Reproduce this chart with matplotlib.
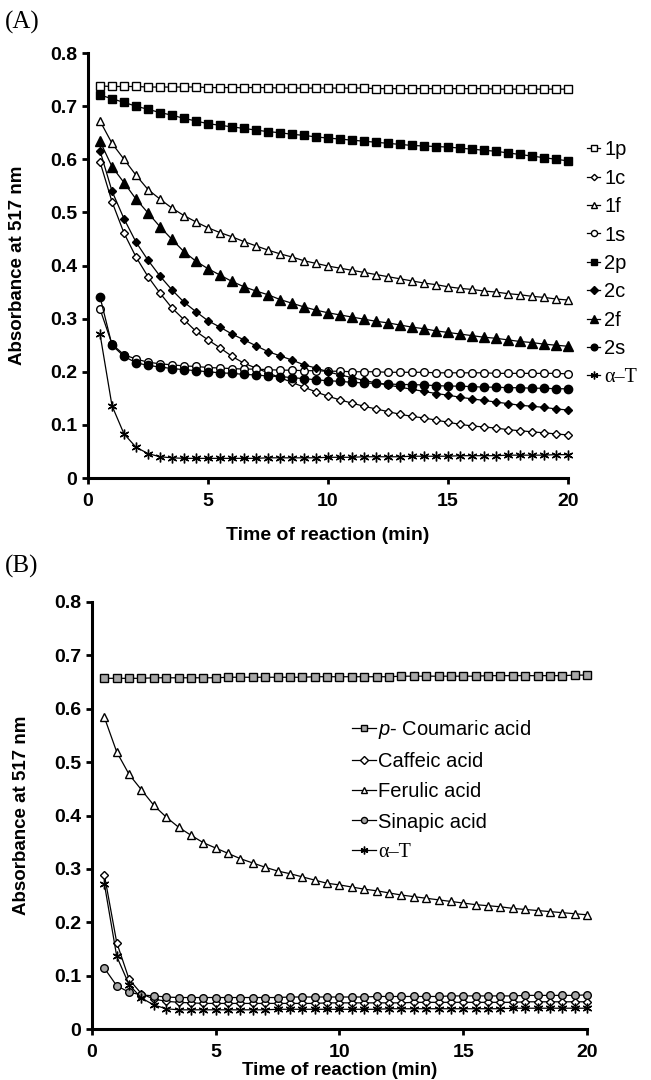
import matplotlib
matplotlib.use("Agg")
import matplotlib.pyplot as plt

plt.rcParams['font.family'] = ['Liberation Sans', 'DejaVu Sans']
plt.rcParams['mathtext.fontset'] = 'custom'
plt.rcParams['mathtext.it'] = 'Liberation Sans:italic'
plt.rcParams['mathtext.rm'] = 'Liberation Sans'

# ---------------------------------------------------------------------------
# data, time in min
# ---------------------------------------------------------------------------
time_min = [0.5, 1, 1.5, 2, 2.5, 3, 3.5, 4, 4.5, 5, 5.5, 6, 6.5, 7, 7.5, 8, 8.5, 9, 9.5, 10,
            10.5, 11, 11.5, 12, 12.5, 13, 13.5, 14, 14.5, 15, 15.5, 16, 16.5, 17, 17.5, 18,
            18.5, 19, 19.5, 20]

# panel A
a_1p = [0.738, 0.737, 0.737, 0.737, 0.736, 0.736, 0.736, 0.736, 0.736, 0.735, 0.735, 0.735,
        0.735, 0.735, 0.735, 0.734, 0.734, 0.734, 0.734, 0.734, 0.734, 0.734, 0.734, 0.733,
        0.733, 0.733, 0.733, 0.733, 0.733, 0.733, 0.733, 0.733, 0.733, 0.732, 0.732, 0.732,
        0.732, 0.732, 0.732, 0.732]
a_1c = [0.595, 0.520, 0.461, 0.416, 0.379, 0.348, 0.320, 0.298, 0.276, 0.260, 0.245, 0.229,
        0.216, 0.207, 0.198, 0.189, 0.180, 0.171, 0.162, 0.154, 0.147, 0.141, 0.135, 0.130,
        0.125, 0.120, 0.116, 0.113, 0.109, 0.105, 0.101, 0.098, 0.096, 0.094, 0.091, 0.089,
        0.087, 0.085, 0.083, 0.081]
a_1f = [0.672, 0.630, 0.600, 0.570, 0.543, 0.525, 0.508, 0.494, 0.482, 0.471, 0.462, 0.454,
        0.445, 0.437, 0.429, 0.422, 0.416, 0.409, 0.404, 0.399, 0.395, 0.391, 0.387, 0.383,
        0.379, 0.375, 0.371, 0.367, 0.364, 0.360, 0.357, 0.355, 0.352, 0.350, 0.347, 0.345,
        0.342, 0.340, 0.337, 0.335]
a_1s = [0.318, 0.252, 0.232, 0.224, 0.218, 0.215, 0.213, 0.211, 0.210, 0.208, 0.207, 0.206,
        0.205, 0.205, 0.204, 0.203, 0.203, 0.202, 0.202, 0.201, 0.201, 0.200, 0.200, 0.200,
        0.199, 0.199, 0.199, 0.199, 0.198, 0.198, 0.198, 0.198, 0.198, 0.197, 0.197, 0.197,
        0.197, 0.197, 0.197, 0.196]
a_2p = [0.721, 0.714, 0.707, 0.700, 0.694, 0.688, 0.683, 0.677, 0.672, 0.667, 0.664, 0.661,
        0.658, 0.655, 0.652, 0.650, 0.647, 0.645, 0.642, 0.640, 0.638, 0.636, 0.634, 0.632,
        0.630, 0.628, 0.626, 0.625, 0.624, 0.623, 0.621, 0.619, 0.617, 0.615, 0.612, 0.609,
        0.606, 0.603, 0.600, 0.597]
a_2c = [0.616, 0.540, 0.488, 0.444, 0.410, 0.380, 0.354, 0.331, 0.313, 0.296, 0.284, 0.271,
        0.260, 0.249, 0.238, 0.230, 0.222, 0.213, 0.207, 0.200, 0.194, 0.189, 0.184, 0.179,
        0.175, 0.171, 0.167, 0.163, 0.159, 0.156, 0.152, 0.149, 0.146, 0.143, 0.140, 0.137,
        0.135, 0.133, 0.130, 0.128]
a_2f = [0.634, 0.586, 0.556, 0.525, 0.499, 0.473, 0.449, 0.426, 0.408, 0.394, 0.382, 0.370,
        0.360, 0.352, 0.345, 0.336, 0.329, 0.322, 0.316, 0.311, 0.307, 0.303, 0.299, 0.295,
        0.292, 0.288, 0.284, 0.281, 0.277, 0.274, 0.271, 0.268, 0.265, 0.263, 0.260, 0.257,
        0.255, 0.252, 0.250, 0.248]
a_2s = [0.341, 0.250, 0.229, 0.217, 0.212, 0.209, 0.206, 0.204, 0.202, 0.200, 0.198, 0.197,
        0.195, 0.194, 0.192, 0.191, 0.189, 0.187, 0.185, 0.183, 0.182, 0.180, 0.179, 0.178,
        0.177, 0.176, 0.176, 0.175, 0.174, 0.173, 0.173, 0.172, 0.171, 0.171, 0.170, 0.170,
        0.169, 0.169, 0.168, 0.168]
a_aT = [0.271, 0.136, 0.083, 0.058, 0.046, 0.040, 0.038, 0.037, 0.037, 0.037, 0.037, 0.037,
        0.037, 0.037, 0.038, 0.038, 0.038, 0.038, 0.038, 0.039, 0.039, 0.039, 0.040, 0.040,
        0.040, 0.040, 0.041, 0.041, 0.041, 0.041, 0.042, 0.042, 0.042, 0.042, 0.043, 0.043,
        0.043, 0.043, 0.044, 0.044]

# panel B
b_coumaric = [0.657, 0.657, 0.657, 0.657, 0.658, 0.658, 0.658, 0.658, 0.658, 0.658, 0.659,
              0.659, 0.659, 0.659, 0.659, 0.659, 0.659, 0.660, 0.660, 0.660, 0.660, 0.660,
              0.660, 0.660, 0.661, 0.661, 0.661, 0.661, 0.661, 0.661, 0.661, 0.662, 0.662,
              0.662, 0.662, 0.662, 0.662, 0.662, 0.663, 0.663]
b_caffeic = [0.289, 0.162, 0.093, 0.066, 0.056, 0.052, 0.050, 0.049, 0.048, 0.048, 0.048,
             0.048, 0.048, 0.048, 0.048, 0.048, 0.048, 0.048, 0.049, 0.049, 0.049, 0.049,
             0.049, 0.049, 0.049, 0.050, 0.050, 0.050, 0.050, 0.050, 0.050, 0.050, 0.050,
             0.050, 0.051, 0.051, 0.051, 0.051, 0.051, 0.051]
b_ferulic = [0.584, 0.519, 0.477, 0.448, 0.419, 0.397, 0.378, 0.363, 0.349, 0.339, 0.329,
             0.319, 0.311, 0.303, 0.296, 0.291, 0.285, 0.279, 0.273, 0.270, 0.266, 0.262,
             0.259, 0.255, 0.251, 0.248, 0.245, 0.242, 0.239, 0.236, 0.233, 0.231, 0.229,
             0.226, 0.224, 0.222, 0.220, 0.218, 0.216, 0.214]
b_sinapic = [0.114, 0.081, 0.069, 0.064, 0.062, 0.060, 0.059, 0.059, 0.059, 0.059, 0.059,
             0.059, 0.059, 0.059, 0.059, 0.060, 0.060, 0.060, 0.060, 0.060, 0.060, 0.060,
             0.061, 0.061, 0.061, 0.061, 0.061, 0.061, 0.062, 0.062, 0.062, 0.062, 0.062,
             0.062, 0.063, 0.063, 0.063, 0.063, 0.063, 0.064]
b_aT = [0.272, 0.136, 0.083, 0.058, 0.045, 0.038, 0.036, 0.036, 0.036, 0.036, 0.036, 0.036,
        0.036, 0.036, 0.037, 0.037, 0.037, 0.037, 0.037, 0.037, 0.037, 0.037, 0.037, 0.038,
        0.038, 0.038, 0.038, 0.038, 0.038, 0.038, 0.038, 0.038, 0.038, 0.039, 0.039, 0.039,
        0.039, 0.039, 0.039, 0.039]

x_ticks = [0, 5, 10, 15, 20]
y_ticks = [0, 0.1, 0.2, 0.3, 0.4, 0.5, 0.6, 0.7, 0.8]
y_ticklabels = ['0', '0.1', '0.2', '0.3', '0.4', '0.5', '0.6', '0.7', '0.8']

ASTERISK = (6, 2, 0)
GRAY = '#a8a8a8'

# (values, label, marker, face colour, size)
series_a = [
    (a_1p, '1p', 's', 'white', 5.5),
    (a_1c, '1c', 'D', 'white', 4.0),
    (a_1f, '1f', '^', 'white', 6.0),
    (a_1s, '1s', 'o', 'white', 5.5),
    (a_2p, '2p', 's', 'black', 5.5),
    (a_2c, '2c', 'D', 'black', 4.5),
    (a_2f, '2f', '^', 'black', 6.5),
    (a_2s, '2s', 'o', 'black', 6.0),
    (a_aT, 'α–T', ASTERISK, 'black', 7.0),
]
series_b = [
    (b_coumaric, '$p$- Coumaric acid', 's', GRAY, 5.5),
    (b_caffeic, 'Caffeic acid', 'D', 'white', 4.5),
    (b_ferulic, 'Ferulic acid', '^', 'white', 6.0),
    (b_sinapic, 'Sinapic acid', 'o', GRAY, 5.5),
    (b_aT, 'α–T', ASTERISK, 'black', 7.0),
]


def style_axes(ax, xlabel_size):
    ax.set_xlim(0, 20)
    ax.set_ylim(0, 0.8)
    ax.set_xticks(x_ticks)
    ax.set_yticks(y_ticks)
    ax.set_yticklabels(y_ticklabels)
    for side in ['top', 'right']:
        ax.spines[side].set_visible(False)
    for side in ['left', 'bottom']:
        ax.spines[side].set_linewidth(2.2)
    ax.tick_params(axis='both', direction='out', length=4, width=2, labelsize=14)
    ax.tick_params(axis='y', pad=4)
    ax.tick_params(axis='x', pad=7)
    for lab in ax.get_xticklabels() + ax.get_yticklabels():
        lab.set_fontweight('bold')
    ax.set_xlabel('Time of reaction (min)', fontsize=xlabel_size, fontweight='bold')
    ax.set_ylabel('Absorbance at 517 nm', fontsize=13.5, fontweight='bold')


def draw_series(ax, series):
    for vals, label, marker, face, size in series:
        ax.plot(time_min, vals, color='black', lw=0.9, marker=marker, markersize=size,
                markerfacecolor=face, markeredgecolor='black', markeredgewidth=1.0,
                label=label, clip_on=False)


fig = plt.figure(figsize=(6.51, 10.8), dpi=100)

# ---------------- (A) ----------------
ax_a = fig.add_axes([0.1352, 0.5574, 0.7373, 0.3935])
draw_series(ax_a, series_a)
style_axes(ax_a, 14)
ax_a.yaxis.set_label_coords(-0.13, 0.5)
ax_a.xaxis.set_label_coords(0.5, -0.115)
leg_a = ax_a.legend(loc='center left', bbox_to_anchor=(0.9017, 0.756),
                    bbox_transform=fig.transFigure, frameon=False, fontsize=14.5,
                    handlelength=0.65, handletextpad=0.2, labelspacing=0.47,
                    borderpad=0, borderaxespad=0, markerscale=0.8)
leg_a.get_texts()[-1].set_fontfamily('Liberation Serif')

# ---------------- (B) ----------------
ax_b = fig.add_axes([0.1413, 0.0472, 0.7604, 0.3954])
draw_series(ax_b, series_b)
style_axes(ax_b, 13.5)
ax_b.yaxis.set_label_coords(-0.125, 0.5)
ax_b.xaxis.set_label_coords(0.5, -0.078)
leg_b = ax_b.legend(loc='center left', bbox_to_anchor=(0.5407, 0.2685),
                    bbox_transform=fig.transFigure, frameon=False, fontsize=14.5,
                    handlelength=1.2, handletextpad=0.1, labelspacing=0.55,
                    borderpad=0, borderaxespad=0, markerscale=0.8)
leg_b.get_texts()[-1].set_fontfamily('Liberation Serif')

# panel letters
fig.text(5 / 651, 1 - 22 / 1080, '(A)', fontsize=18, family='Liberation Serif', va='center')
fig.text(5 / 651, 1 - 566 / 1080, '(B)', fontsize=18, family='Liberation Serif', va='center')

fig.savefig('out.png', dpi=100)
